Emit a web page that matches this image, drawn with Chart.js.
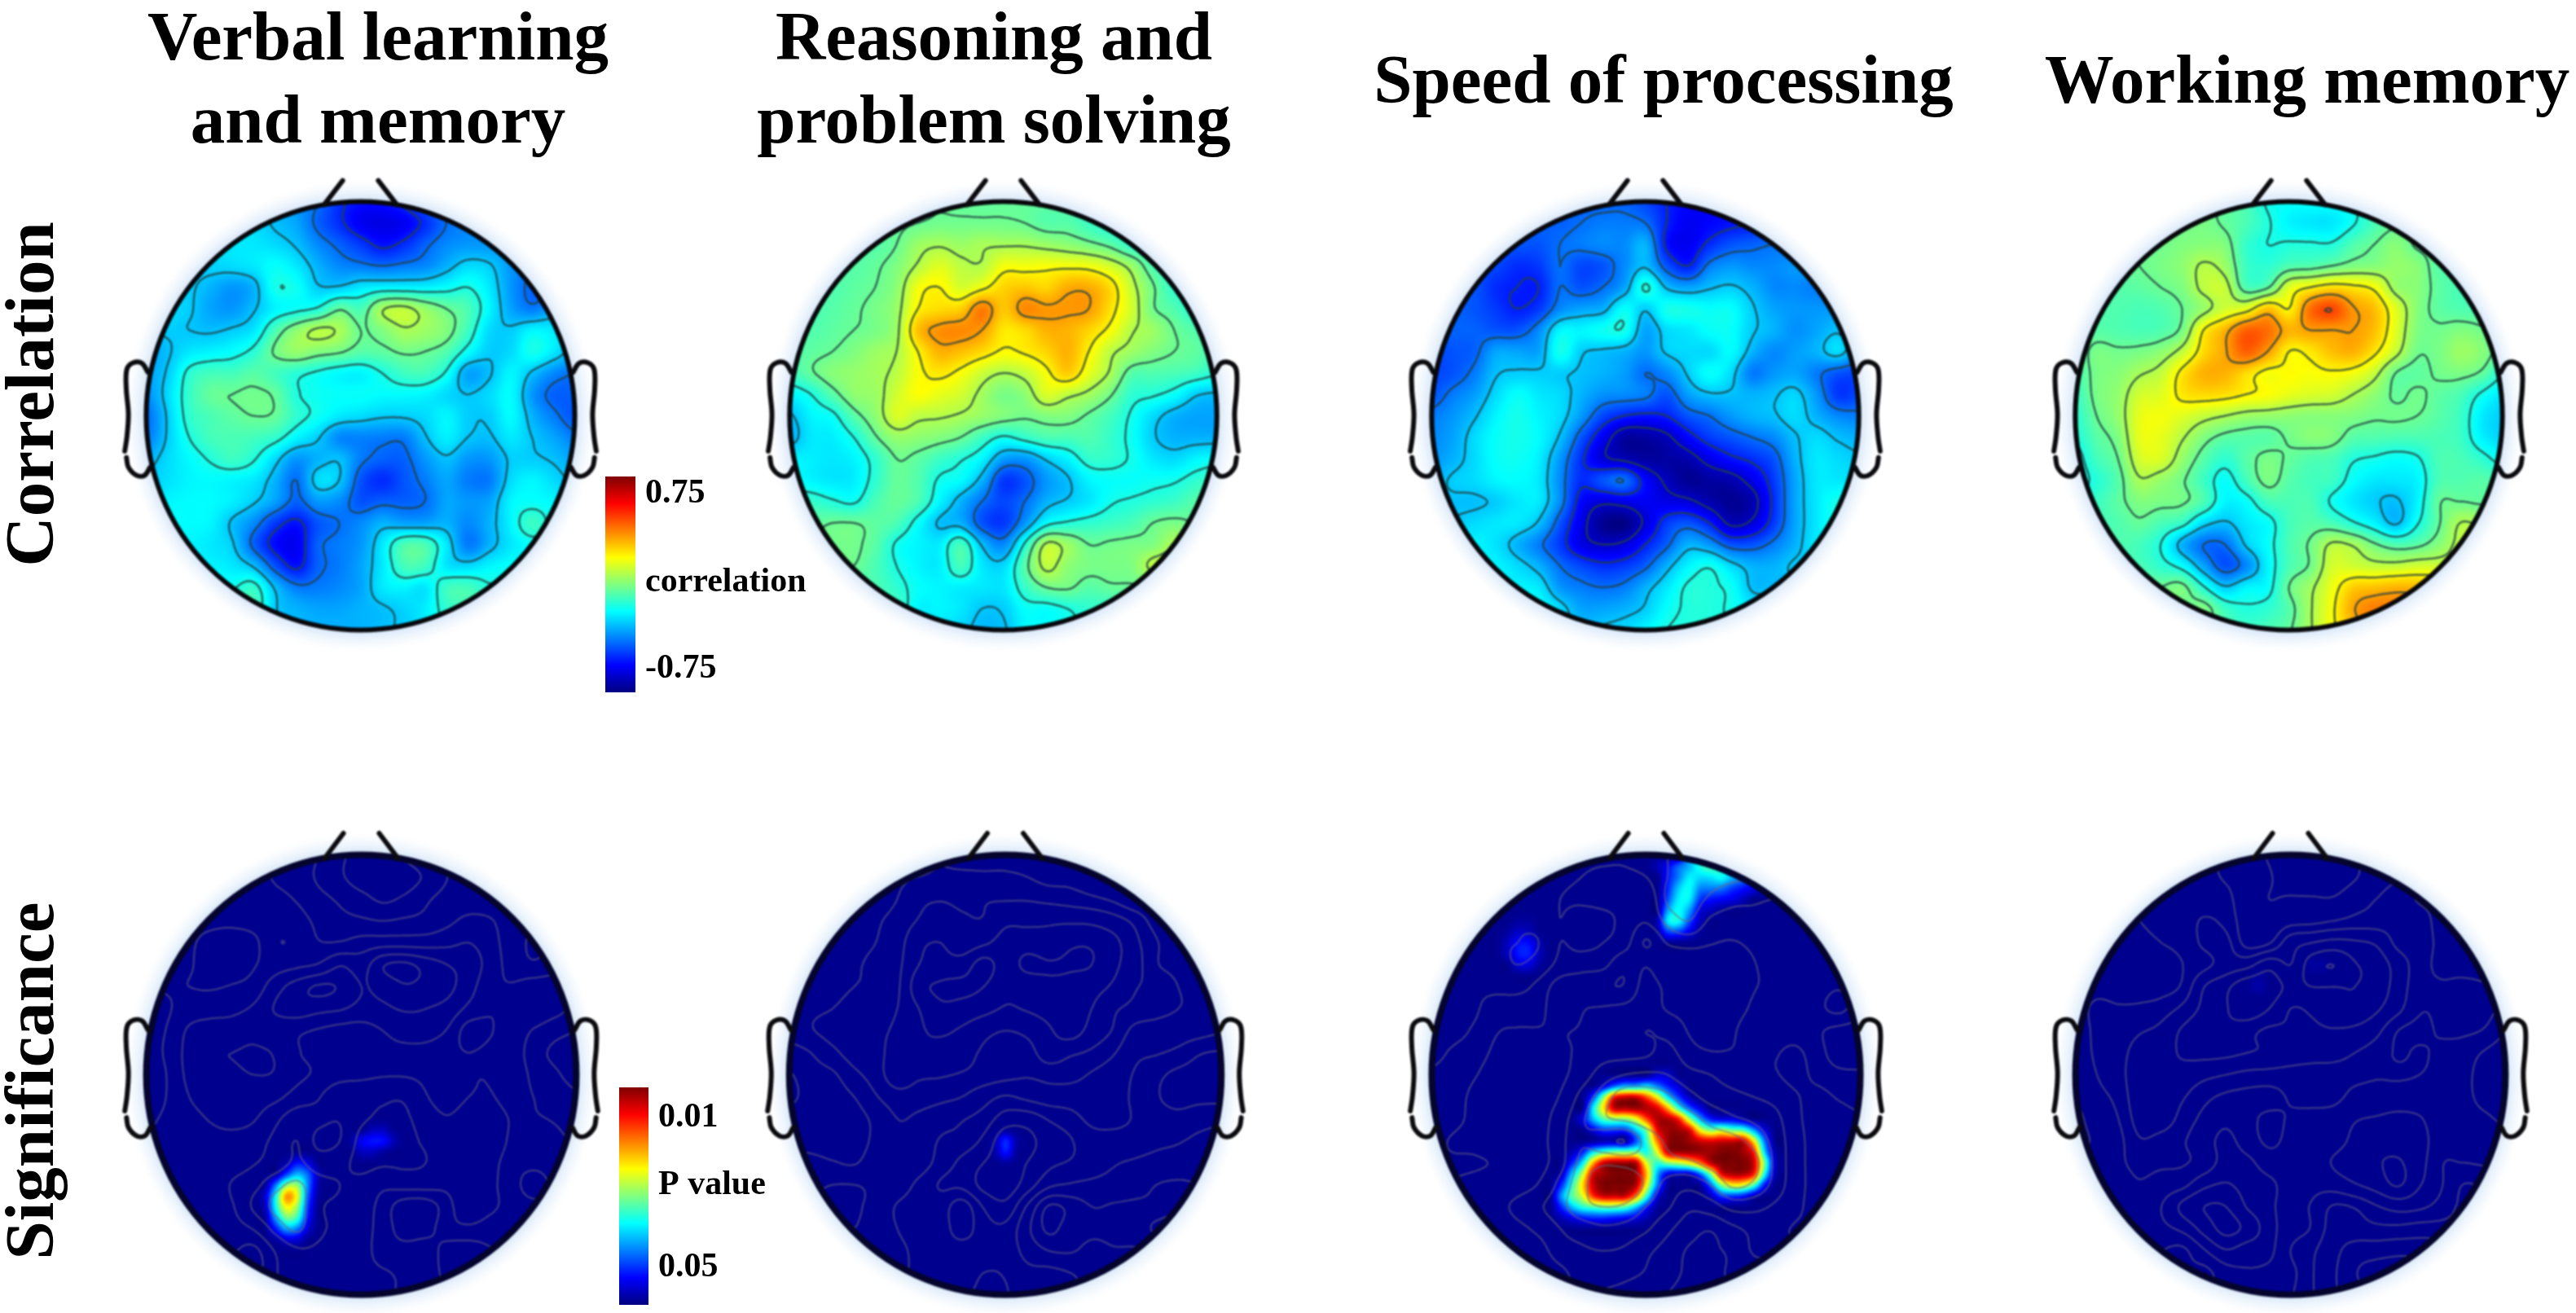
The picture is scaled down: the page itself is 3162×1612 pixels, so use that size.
<!DOCTYPE html>
<html>
<head>
<meta charset="utf-8">
<title>Correlation and significance maps</title>
<script src="https://cdn.jsdelivr.net/npm/chart.js@4"></script>
<style>
  html, body { margin: 0; background: #fff; overflow: hidden; }
  #page { position: relative; width: 3162px; height: 1612px; overflow: hidden; }
  #page canvas { position: absolute; }
  #page canvas.head { filter: blur(0.8px); }
  .title, .side { position: absolute; font: bold 85px "Liberation Serif", serif; color: #000; white-space: nowrap; }
  .title { text-align: center; line-height: 102px; transform: translateX(-50%); }
  .side { transform: translate(-50%, -50%) rotate(-90deg); }
</style>
</head>
<body>
<div id="page">
  <div class="title" style="left:464px;top:-7px">Verbal learning<br>and memory</div>
  <div class="title" style="left:1220px;top:-7px">Reasoning and<br>problem solving</div>
  <div class="title" style="left:2042px;top:46px">Speed of processing</div>
  <div class="title" style="left:2832px;top:46px">Working memory</div>
  <div class="side" style="left:36px;top:484px">Correlation</div>
  <div class="side" style="left:36px;top:1327px">Significance</div>
</div>
<script>
const corrVerbal = [
  [-25,-25,-25,-25,-25,-25,-28,-34,-40,-50,-55,-55,-50,-42,-36,-34,-34,-34,-34,-34,-34],
  [-25,-25,-25,-25,-24,-24,-28,-32,-42,-50,-58,-60,-58,-50,-40,-36,-34,-34,-34,-34,-34],
  [-25,-25,-25,-25,-22,-22,-24,-28,-36,-42,-48,-54,-50,-42,-36,-34,-34,-34,-34,-36,-36],
  [-25,-25,-25,-25,-24,-22,-18,-22,-30,-36,-38,-40,-38,-36,-30,-24,-26,-34,-38,-38,-38],
  [-26,-26,-26,-30,-34,-30,-16,-17,-26,-26,-22,-20,-20,-20,-18,-15,-22,-34,-42,-42,-40],
  [-26,-24,-26,-32,-34,-28,-20,-17,-14,-4,-8,6,9,3,-3,-8,-20,-32,-38,-32,-32],
  [-28,-26,-27,-28,-26,-22,-8,2,8,6,-3,0,6,4,0,-10,-24,-26,-20,-22,-28],
  [-32,-28,-22,-20,-18,-13,-2,3,0,-2,-6,-5,-2,-3,-7,-18,-26,-24,-16,-22,-30],
  [-32,-26,-13,-9,-9,-6,-9,-13,-16,-19,-20,-15,-10,-9,-16,-32,-28,-20,-28,-36,-40],
  [-35,-24,-11,-4,-3,-2,-4,-14,-17,-18,-18,-19,-19,-20,-24,-27,-24,-19,-34,-42,-42],
  [-40,-26,-12,-8,-5,-3,-4,-12,-17,-22,-24,-26,-26,-24,-20,-26,-26,-19,-30,-38,-44],
  [-38,-26,-15,-9,-8,-9,-12,-20,-26,-36,-37,-38,-38,-28,-21,-27,-28,-22,-27,-32,-38],
  [-30,-24,-19,-14,-10,-14,-24,-34,-30,-28,-38,-42,-42,-34,-28,-34,-34,-26,-26,-28,-32],
  [-26,-23,-20,-19,-20,-22,-30,-40,-24,-27,-44,-50,-44,-38,-32,-38,-38,-24,-20,-24,-28],
  [-24,-20,-19,-19,-21,-26,-33,-42,-34,-36,-44,-42,-42,-40,-32,-34,-32,-20,-18,-20,-24],
  [-22,-19,-19,-20,-28,-36,-48,-54,-44,-40,-36,-30,-32,-32,-30,-36,-30,-20,-10,-18,-22],
  [-20,-20,-20,-22,-26,-42,-55,-58,-42,-38,-34,-22,-8,-8,-22,-38,-30,-22,-18,-18,-20],
  [-20,-20,-20,-20,-22,-28,-44,-54,-42,-38,-32,-22,-9,-10,-22,-24,-20,-18,-18,-18,-18],
  [-16,-16,-16,-16,-16,-12,-28,-38,-38,-36,-32,-22,-20,-22,-10,-9,-14,-14,-14,-14,-14],
  [-9,-9,-9,-9,-9,-9,-26,-30,-32,-32,-30,-28,-25,-21,-12,-9,-9,-9,-9,-9,-9],
  [-9,-9,-9,-9,-9,-20,-28,-30,-30,-30,-30,-28,-26,-22,-14,-10,-9,-9,-9,-9,-9]
];
const corrReasoning = [
  [-3,-3,-3,-3,-3,-3,-3,-3,-4,-4,-4,-4,-5,-6,-10,-14,-14,-14,-14,-14,-14],
  [-4,-4,-4,-4,-4,-4,-3,-2,-2,-2,-2,-3,-6,-6,-10,-14,-16,-16,-16,-16,-16],
  [-6,-6,-6,-6,-6,-3,4,6,4,6,6,6,4,2,-1,-5,-12,-14,-16,-16,-16],
  [-6,-6,-6,-6,-4,0,8,14,9,8,17,17,18,18,17,12,4,-8,-12,-14,-14],
  [-7,-7,-7,-5,-3,2,17,20,13,18,25,27,25,31,31,24,10,-2,-12,-14,-14],
  [-8,-8,-6,-4,-1,4,20,24,26,38,27,36,34,34,33,23,12,-2,-7,-14,-14],
  [-8,-7,-5,-3,-1,5,28,35,36,33,22,24,30,30,25,18,8,4,-3,-7,-12],
  [-7,-5,-3,0,4,7,20,30,28,24,19,21,25,30,20,9,4,0,-3,-5,-10],
  [-10,-4,1,3,5,9,18,22,18,11,7,10,18,26,15,6,-6,-7,-8,-10,-14],
  [-20,-15,-6,2,4,12,18,15,12,5,-1,2,13,9,5,-2,-12,-14,-18,-26,-28],
  [-28,-20,-17,-6,2,13,9,8,6,3,0,-2,0,0,-4,-9,-16,-24,-30,-32,-32],
  [-30,-22,-21,-15,-4,3,2,0,-3,-10,-16,-12,-8,-8,-7,-11,-17,-26,-30,-30,-30],
  [-20,-21,-22,-20,-12,-3,-5,-10,-14,-20,-33,-34,-26,-20,-12,-12,-16,-22,-24,-20,-18],
  [-17,-20,-22,-21,-12,-4,-7,-16,-19,-30,-48,-44,-34,-28,-20,-18,-18,-17,-16,-12,-10],
  [-11,-11,-14,-16,-8,-4,-8,-20,-30,-40,-46,-40,-30,-26,-22,-16,-14,-12,-10,-6,-6],
  [-5,-5,-3,-3,-5,-8,-18,-28,-30,-44,-48,-34,-18,-14,-12,-10,-8,-3,-1,-3,-3],
  [-2,-2,-2,-2,-6,-16,-20,-21,-9,-28,-36,-14,8,4,-3,-2,-1,0,7,7,7],
  [-3,-3,-3,-3,-8,-15,-20,-21,-9,-22,-24,-6,9,2,-1,-1,0,9,9,9,9],
  [-8,-8,-8,-8,-8,-12,-18,-20,-21,-22,-22,-11,-3,-2,-6,-4,-4,-4,-4,-4,-4],
  [-10,-10,-10,-10,-10,-10,-20,-20,-22,-27,-26,-18,-18,-15,-12,-12,-12,-12,-12,-12,-12],
  [-20,-20,-20,-20,-20,-20,-20,-22,-25,-29,-28,-20,-18,-16,-14,-12,-12,-12,-12,-12,-12]
];
const corrSpeed = [
  [-42,-42,-42,-42,-42,-42,-42,-42,-42,-42,-46,-52,-56,-56,-54,-52,-52,-52,-52,-52,-52],
  [-44,-44,-44,-44,-44,-42,-42,-40,-38,-38,-40,-52,-58,-56,-54,-52,-50,-50,-50,-50,-50],
  [-44,-44,-44,-44,-44,-44,-40,-38,-36,-36,-30,-54,-58,-50,-44,-42,-40,-40,-40,-40,-40],
  [-46,-46,-46,-46,-50,-48,-40,-46,-44,-36,-28,-44,-52,-38,-34,-36,-36,-34,-34,-34,-34],
  [-44,-44,-44,-50,-52,-52,-40,-44,-40,-32,-14,-28,-32,-28,-26,-30,-36,-36,-38,-38,-38],
  [-42,-42,-44,-48,-52,-48,-36,-32,-30,-18,-26,-16,-16,-18,-18,-26,-32,-34,-34,-34,-34],
  [-42,-42,-42,-44,-44,-36,-20,-20,-17,-16,-32,-24,-22,-18,-18,-26,-30,-35,-32,-28,-34],
  [-46,-44,-42,-32,-32,-32,-16,-26,-28,-30,-34,-26,-24,-24,-19,-30,-36,-33,-30,-24,-34],
  [-46,-44,-38,-28,-26,-26,-26,-28,-30,-33,-40,-36,-26,-18,-24,-38,-34,-32,-38,-44,-46],
  [-44,-38,-33,-24,-18,-22,-24,-30,-35,-36,-38,-44,-33,-28,-28,-30,-28,-25,-34,-48,-46],
  [-38,-34,-28,-20,-16,-20,-24,-34,-46,-52,-54,-52,-44,-40,-34,-30,-28,-24,-30,-36,-38],
  [-36,-32,-24,-18,-16,-19,-28,-44,-58,-70,-70,-66,-56,-48,-44,-40,-36,-28,-24,-28,-30],
  [-34,-30,-24,-18,-17,-21,-34,-50,-62,-66,-70,-70,-68,-60,-54,-50,-44,-30,-22,-24,-26],
  [-30,-26,-24,-20,-19,-22,-36,-50,-44,-40,-56,-66,-72,-70,-68,-60,-48,-32,-22,-22,-22],
  [-28,-28,-28,-26,-22,-22,-36,-56,-62,-60,-58,-60,-62,-68,-72,-68,-50,-32,-22,-16,-16],
  [-26,-26,-24,-22,-22,-28,-44,-60,-72,-74,-62,-48,-44,-52,-66,-62,-48,-32,-22,-16,-16],
  [-20,-20,-20,-23,-30,-38,-48,-60,-64,-62,-52,-42,-30,-34,-44,-44,-38,-30,-22,-22,-22],
  [-20,-20,-20,-20,-24,-30,-40,-46,-50,-48,-42,-30,-20,-16,-24,-30,-30,-26,-26,-26,-26],
  [-20,-20,-20,-20,-20,-22,-34,-38,-40,-38,-30,-22,-14,-14,-17,-28,-28,-28,-28,-28,-28],
  [-18,-18,-18,-18,-18,-18,-24,-32,-32,-30,-26,-18,-14,-14,-16,-22,-22,-22,-22,-22,-22],
  [-18,-18,-18,-18,-18,-18,-24,-28,-26,-24,-20,-15,-14,-14,-16,-20,-22,-22,-22,-22,-22]
];
const corrWorking = [
  [-2,-2,-2,-2,-2,-2,-2,-4,-8,-16,-18,-18,-18,-16,-8,-6,-6,-6,-6,-6,-6],
  [-2,-2,-2,-2,-2,-2,-1,-4,-8,-14,-20,-22,-22,-16,-8,-4,-4,-4,-4,-4,-4],
  [-3,-3,-3,-3,-2,0,1,0,-11,-15,-14,-14,-14,-7,-3,1,-4,-5,-5,-5,-5],
  [-4,-4,-4,-3,-1,2,8,4,-10,-12,-7,-6,-3,0,1,3,1,-6,-6,-6,-6],
  [-6,-6,-6,-5,-3,0,9,10,-7,-4,14,20,24,22,18,4,1,-5,-8,-8,-8],
  [-7,-7,-7,-8,-7,-3,4,12,16,28,20,40,46,34,28,14,1,-5,-7,-8,-8],
  [-8,-6,-7,-8,-7,-1,20,30,42,40,30,33,33,33,28,14,0,-2,0,-2,-8],
  [-7,-1,-2,-1,2,10,24,32,42,33,20,22,28,30,22,10,-2,-1,4,1,-6],
  [-8,-1,1,6,10,22,30,30,24,18,19,18,19,17,10,-3,-5,-2,-1,-4,-14],
  [-10,-1,3,12,14,22,24,23,20,18,15,13,12,7,2,-4,-2,-5,-8,-16,-22],
  [-12,-3,3,15,17,14,10,7,4,3,2,1,1,0,-2,-2,-3,-6,-10,-21,-26],
  [-14,-6,0,15,15,8,0,-5,-6,-6,-2,1,0,-6,-7,-8,-8,-8,-10,-20,-25],
  [-18,-9,-3,12,13,3,-6,-12,-6,-1,-4,-7,-8,-14,-16,-18,-16,-8,-8,-12,-18],
  [-18,-13,-6,6,3,-2,-10,-18,-9,-1,-6,-9,-10,-18,-22,-22,-20,-8,-7,-6,-8],
  [-14,-10,-5,0,-1,-2,-8,-20,-18,-9,-8,-8,-16,-22,-26,-28,-20,-4,-3,-4,-4],
  [-8,-8,-7,-4,-8,-12,-24,-28,-22,-18,-9,-6,-8,-14,-20,-28,-16,-4,7,6,6],
  [-7,-7,-7,-9,-15,-30,-40,-40,-26,-18,-8,-2,8,6,-2,-7,-5,1,9,9,9],
  [-8,-8,-8,-8,-12,-18,-32,-44,-36,-20,-8,-2,12,12,10,10,12,12,12,12,12],
  [-3,-3,-3,-3,-3,-1,-14,-26,-20,-18,-3,5,16,26,28,30,30,30,30,30,30],
  [-4,-4,-4,-4,-4,-4,0,-10,-14,-12,-6,6,18,32,38,38,38,38,38,38,38],
  [-4,-4,-4,-4,-4,-4,-4,-8,-10,-8,-4,6,18,28,38,38,38,38,38,38,38]
];

// position on the P value colour bar in percent, read on a 41 x 41 grid
// each row: [grid row, first column, values...]; everything else is the bar's bottom colour
const sigVerbal = [
  [25,20,2,6,6,2], [26,19,3,11,14,13,5], [27,20,6,6,3],
  [28,13,5,14,10], [29,12,3,18,30,22,5], [30,11,3,24,50,52,25,4],
  [31,11,8,38,72,60,22,3], [32,11,6,38,62,52,18], [33,11,3,28,48,42,14],
  [34,12,14,28,24,8], [35,12,3,8,8,2]
];
const sigReasoning = [
  [25,20,3], [26,19,4,16,4], [27,19,4,14,3], [28,20,3]
];
const sigSpeed = [
  [0,24,30,40,45,40,30], [1,21,5,12,22,30,40,45,38,20,6],
  [2,22,14,25,36,34,35,38,30,22,14,8], [3,22,16,32,38,26,25,24,18,14,10,5],
  [4,22,20,36,36,18,14,12,10,6], [5,22,28,38,28,10,6,3],
  [6,7,1,3,3], [6,21,5,35,38,20,6], [7,7,3,7,6,2], [7,21,3,18,18,10,3],
  [8,7,6,13,13,5], [9,7,6,14,15,6], [10,8,8,9,3],
  [20,21,8,8], [21,16,10,22,30,30,35,25,15,8],
  [22,15,18,50,85,92,92,80,62,35,18,6],
  [23,15,35,65,93,95,97,95,90,70,42,22,10],
  [24,14,10,30,45,50,50,60,80,95,95,85,55,30,15,10,10,6],
  [25,15,10,18,18,18,32,50,88,97,97,90,62,50,55,48,45,28,10],
  [26,15,3,5,5,3,20,42,75,97,100,97,92,90,92,92,92,65,25],
  [27,13,5,15,35,45,50,50,50,40,60,92,96,97,97,97,100,100,97,85,35,5],
  [28,13,15,35,70,92,97,97,95,60,42,50,55,62,75,93,100,100,100,92,50,8],
  [29,12,5,30,55,90,97,100,100,97,70,30,10,8,8,22,50,88,95,95,85,40,6],
  [30,12,15,40,65,92,100,100,100,95,62,25,3,0,0,3,22,50,62,60,45,15],
  [31,12,25,45,58,82,92,92,92,75,42,10,0,0,0,0,6,18,18,15,6],
  [32,12,15,30,40,45,48,48,45,32,15,3],
  [33,12,5,10,14,16,16,14,12,10,5]
];
const sigWorking = [
  [10,22,3,3], [11,17,3], [12,16,2,4]
];

const corrTickStops = [92, 51, 11];
const corrTickLabels = ["0.75", "correlation", "-0.75"];
const sigTickStops = [86, 55, 17];
const sigTickLabels = ["0.01", "P value", "0.05"];

// head furniture in head radii
const noseX = [-0.17, -0.083];
const noseY = [0.985, 1.098];
const earTopX = [-0.992, -1.02, -1.06, -1.09, -1.093, -1.083, -1.09, -1.10];
const earTopY = [0.203, 0.245, 0.248, 0.218, 0.128, 0.008, -0.098, -0.165];
const earLowX = [-1.092, -1.083, -1.045, -1.007, -0.982];
const earLowY = [-0.195, -0.24, -0.278, -0.278, -0.24];

const contourLevels = [-64, -52, -40, -27, -15, -3, 7, 20, 33, 46, 58];

function jet(t) {
  const c = (v) => Math.round(255 * Math.max(0, Math.min(1, v)));
  return [c(1.5 - Math.abs(4 * t - 3)), c(1.5 - Math.abs(4 * t - 2)), c(1.5 - Math.abs(4 * t - 1))];
}

function gridPoints(rows) {
  const n = rows.length - 1;
  const pts = [];
  rows.forEach((row, j) => row.forEach((v, i) => {
    pts.push({ x: -1 + 2 * i / n, y: 1 - 2 * j / n, v: v });
  }));
  return pts;
}

function sigRows(cells) {
  const rows = [];
  for (let j = 0; j < 41; j++) rows.push(new Array(41).fill(1.5));
  cells.forEach((c) => {
    for (let k = 2; k < c.length; k++) rows[c[0]][c[1] + k - 2] = Math.max(1.5, c[k]);
  });
  return rows;
}

function toGrid(points) {
  const n = Math.round(Math.sqrt(points.length));
  const g = [];
  for (let j = 0; j < n; j++) g.push(points.slice(j * n, (j + 1) * n).map((p) => p.v));
  return g;
}

// smooth reading of a grid at head coordinates, only used for painting
function sample(g, x, y) {
  const n = g.length - 1;
  const fx = (x + 1) / 2 * n, fy = (1 - y) / 2 * n;
  const ix = Math.floor(fx), iy = Math.floor(fy);
  const tx = fx - ix, ty = fy - iy;
  const w = (t) => [
    -0.5 * t * t * t + t * t - 0.5 * t,
    1.5 * t * t * t - 2.5 * t * t + 1,
    -1.5 * t * t * t + 2 * t * t + 0.5 * t,
    0.5 * t * t * t - 0.5 * t * t
  ];
  const wx = w(tx), wy = w(ty);
  let sum = 0;
  for (let b = 0; b < 4; b++) {
    const row = g[Math.max(0, Math.min(n, iy + b - 1))];
    let s = 0;
    for (let a = 0; a < 4; a++) s += wx[a] * row[Math.max(0, Math.min(n, ix + a - 1))];
    sum += wy[b] * s;
  }
  return sum;
}

const headPlugin = {
  id: "head",
  beforeDatasetsDraw(chart, args, opts) {
    const { ctx, scales } = chart;
    const sx = scales.x, sy = scales.y;
    const cx = sx.getPixelForValue(0), cy = sy.getPixelForValue(0);
    const rx = sx.getPixelForValue(1) - cx, ry = cy - sy.getPixelForValue(1);
    const fill = toGrid(chart.data.datasets[0].data);
    const lines = toGrid(chart.data.datasets[1].data);

    // pale halo round the head
    ctx.save();
    ctx.translate(cx, cy);
    ctx.scale(1, ry / rx);
    const halo = ctx.createRadialGradient(0, 0, rx, 0, 0, rx * 1.1);
    halo.addColorStop(0, "rgba(205,225,248,0.9)");
    halo.addColorStop(1, "rgba(235,244,252,0)");
    ctx.fillStyle = halo;
    ctx.beginPath();
    ctx.arc(0, 0, rx * 1.1, 0, Math.PI * 2);
    ctx.fill();
    ctx.restore();

    // colour field
    const w = Math.ceil(2 * rx) + 2, h = Math.ceil(2 * ry) + 2;
    const off = document.createElement("canvas");
    off.width = w; off.height = h;
    const octx = off.getContext("2d");
    const img = octx.createImageData(w, h);
    const x0 = cx - w / 2, y0 = cy - h / 2;
    for (let py = 0; py < h; py++) {
      const vy = sy.getValueForPixel(y0 + py);
      for (let px = 0; px < w; px++) {
        const vx = sx.getValueForPixel(x0 + px);
        const t = (sample(fill, vx, vy) - opts.min) / (opts.max - opts.min);
        const c = jet(t);
        const k = (py * w + px) * 4;
        img.data[k] = c[0]; img.data[k + 1] = c[1]; img.data[k + 2] = c[2]; img.data[k + 3] = 255;
      }
    }
    octx.putImageData(img, 0, 0);

    ctx.save();
    ctx.beginPath();
    ctx.ellipse(cx, cy, rx, ry, 0, 0, Math.PI * 2);
    ctx.clip();
    ctx.drawImage(off, x0, y0);

    // contour lines, marching squares over the line grid
    const step = 3;
    const nx = Math.ceil(w / step), ny = Math.ceil(h / step);
    const f = [];
    for (let j = 0; j <= ny; j++) {
      const row = [];
      const vy = sy.getValueForPixel(y0 + j * step);
      for (let i = 0; i <= nx; i++) row.push(sample(lines, sx.getValueForPixel(x0 + i * step), vy));
      f.push(row);
    }
    ctx.beginPath();
    contourLevels.forEach((lv) => {
      for (let j = 0; j < ny; j++) {
        for (let i = 0; i < nx; i++) {
          const a = f[j][i], b = f[j][i + 1], c = f[j + 1][i + 1], d = f[j + 1][i];
          const hits = [];
          if ((a < lv) !== (b < lv)) hits.push([i + (lv - a) / (b - a), j]);
          if ((b < lv) !== (c < lv)) hits.push([i + 1, j + (lv - b) / (c - b)]);
          if ((d < lv) !== (c < lv)) hits.push([i + (lv - d) / (c - d), j + 1]);
          if ((a < lv) !== (d < lv)) hits.push([i, j + (lv - a) / (d - a)]);
          for (let k = 0; k + 1 < hits.length; k += 2) {
            ctx.moveTo(x0 + hits[k][0] * step, y0 + hits[k][1] * step);
            ctx.lineTo(x0 + hits[k + 1][0] * step, y0 + hits[k + 1][1] * step);
          }
        }
      }
    });
    ctx.strokeStyle = opts.lineColor;
    ctx.lineWidth = opts.lineWidth;
    ctx.stroke();
    ctx.restore();

    // head outline
    ctx.beginPath();
    ctx.ellipse(cx, cy, rx, ry, 0, 0, Math.PI * 2);
    ctx.strokeStyle = opts.outline;
    ctx.lineWidth = opts.outlineWidth;
    ctx.stroke();
  }
};

function pairs(xs, ys, sign) {
  return xs.map((x, i) => ({ x: x * sign, y: ys[i] }));
}

function furniture() {
  const line = (pts, tension) => ({
    type: "line", data: pts, showLine: true, pointRadius: 0, tension: tension,
    borderColor: "#0b0b0f", borderWidth: 6, borderCapStyle: "round", clip: false
  });
  return [
    line(pairs(noseX, noseY, 1), 0),
    line(pairs(noseX, noseY, -1), 0),
    line(pairs(earTopX, earTopY, 1), 0.35),
    line(pairs(earLowX, earLowY, 1), 0.35),
    line(pairs(earTopX, earTopY, -1), 0.35),
    line(pairs(earLowX, earLowY, -1), 0.35)
  ];
}

function addHead(cx, cy, rx, ry, fillRows, lineRows, head) {
  const span = 1.15;
  const w = Math.round(2 * span * rx), h = Math.round(2 * span * ry);
  const canvas = document.createElement("canvas");
  canvas.className = "head";
  canvas.width = w; canvas.height = h;
  canvas.style.left = (cx - w / 2) + "px";
  canvas.style.top = (cy - h / 2) + "px";
  document.getElementById("page").appendChild(canvas);
  new Chart(canvas, {
    type: "scatter",
    data: {
      datasets: [
        { label: "fill", data: gridPoints(fillRows), pointRadius: 0 },
        { label: "contours", data: gridPoints(lineRows), pointRadius: 0 }
      ].concat(furniture())
    },
    options: {
      responsive: false,
      animation: false,
      events: [],
      layout: { padding: 0 },
      plugins: { legend: { display: false }, tooltip: { enabled: false }, head: head },
      scales: {
        x: { type: "linear", min: -span, max: span, display: false },
        y: { type: "linear", min: -span, max: span, display: false }
      }
    },
    plugins: [headPlugin]
  });
}

function addColorBar(left, top, barW, barH, stops, labels) {
  const axisW = 230;
  const canvas = document.createElement("canvas");
  canvas.width = barW + axisW; canvas.height = barH;
  canvas.style.left = left + "px";
  canvas.style.top = top + "px";
  document.getElementById("page").appendChild(canvas);
  new Chart(canvas, {
    type: "bar",
    data: {
      labels: [""],
      datasets: [{
        data: [[0, 100]],
        barPercentage: 1,
        categoryPercentage: 1,
        borderWidth: 0,
        backgroundColor(ctx) {
          const area = ctx.chart.chartArea;
          if (!area) return "#000";
          const g = ctx.chart.ctx.createLinearGradient(0, area.bottom, 0, area.top);
          for (let i = 0; i <= 32; i++) {
            const c = jet(i / 32);
            g.addColorStop(i / 32, "rgb(" + c.join(",") + ")");
          }
          return g;
        }
      }]
    },
    options: {
      responsive: false,
      animation: false,
      events: [],
      layout: { padding: 0 },
      plugins: { legend: { display: false }, tooltip: { enabled: false } },
      scales: {
        x: { display: false },
        y: {
          position: "right",
          min: 0,
          max: 100,
          grid: { display: false, drawTicks: false },
          border: { display: false },
          afterBuildTicks(scale) { scale.ticks = stops.map((v) => ({ value: v })); },
          afterFit(scale) {
            scale.width = axisW;
            scale.paddingTop = 0;
            scale.paddingBottom = 0;
          },
          ticks: {
            padding: 12,
            color: "#000",
            font: { family: "Liberation Serif", weight: "bold", size: 42 },
            autoSkip: false,
            callback(value) { return labels[stops.indexOf(value)]; }
          }
        }
      }
    }
  });
}

const topHead = { min: -75, max: 75, lineColor: "rgba(35,65,65,0.8)", lineWidth: 2.5, outline: "#08080c", outlineWidth: 6 };
const lowHead = { min: 0, max: 100, lineColor: "rgba(105,105,125,0.6)", lineWidth: 2, outline: "#04042c", outlineWidth: 8 };

addHead(442, 510, 263, 263, corrVerbal, corrVerbal, topHead);
addHead(1231, 510, 262, 263, corrReasoning, corrReasoning, topHead);
addHead(2019, 510, 262, 263, corrSpeed, corrSpeed, topHead);
addHead(2809, 510, 262, 263, corrWorking, corrWorking, topHead);

addHead(443, 1319, 264, 270, sigRows(sigVerbal), corrVerbal, lowHead);
addHead(1234, 1319, 265, 270, sigRows(sigReasoning), corrReasoning, lowHead);
addHead(2020, 1319, 263, 270, sigRows(sigSpeed), corrSpeed, lowHead);
addHead(2811, 1319, 264, 270, sigRows(sigWorking), corrWorking, lowHead);

addColorBar(743, 585, 37, 265, corrTickStops, corrTickLabels);
addColorBar(760, 1335, 36, 267, sigTickStops, sigTickLabels);
</script>
</body>
</html>
